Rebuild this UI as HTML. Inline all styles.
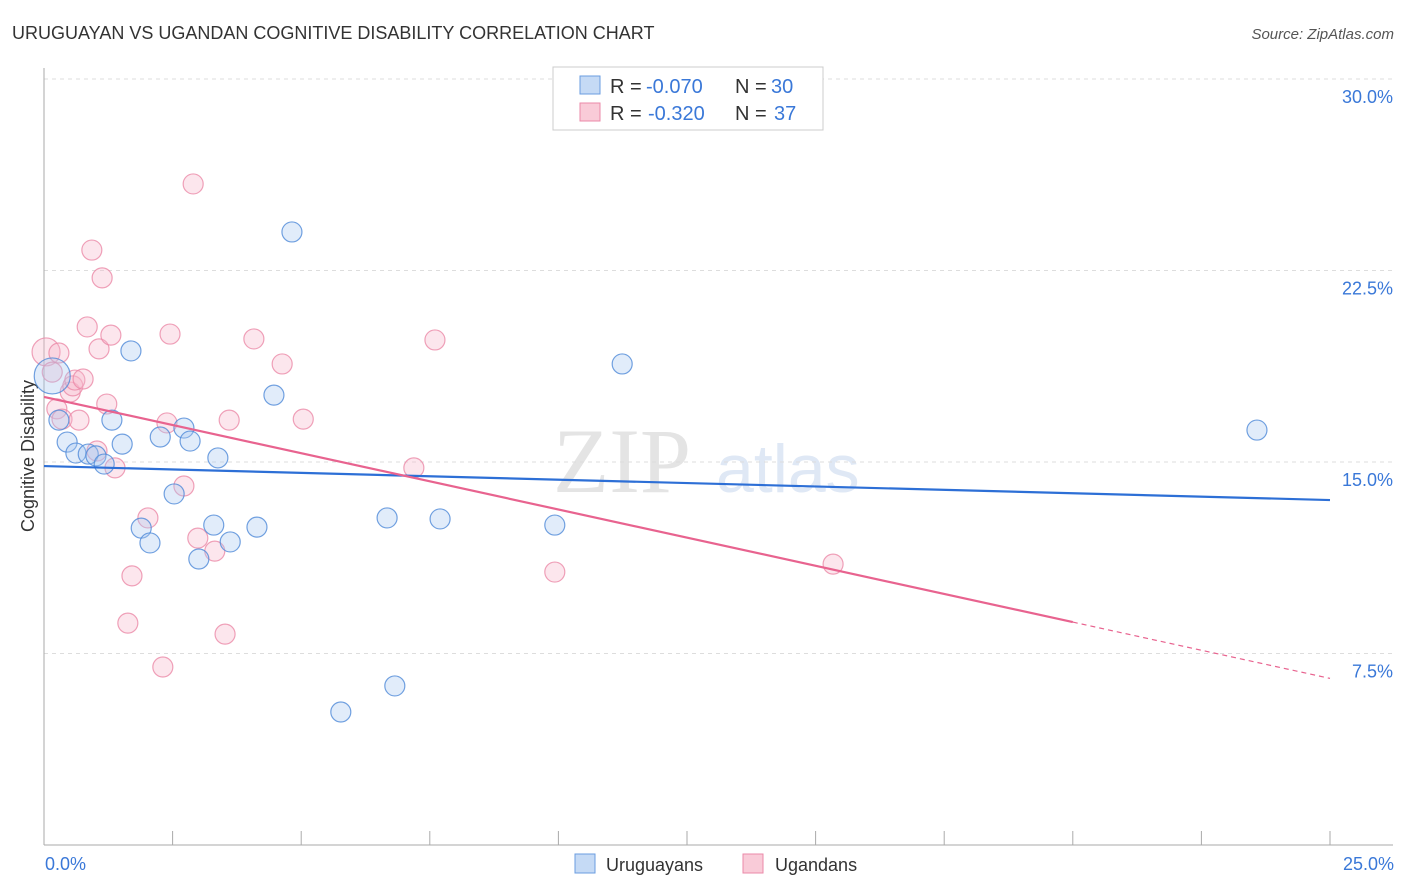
<!DOCTYPE html>
<html><head><meta charset="utf-8"><style>
body{margin:0;background:#fff;font-family:"Liberation Sans",sans-serif}
svg{display:block}
</style></head><body>
<svg width="1406" height="892">
<text x="12" y="39" font-size="18" fill="#333">URUGUAYAN VS UGANDAN COGNITIVE DISABILITY CORRELATION CHART</text>
<text x="1394" y="39" font-size="15" fill="#555" font-style="italic" text-anchor="end">Source: ZipAtlas.com</text>
<text x="553" y="492" font-size="92" fill="#e4e4e4" font-family="Liberation Serif">ZIP</text>
<text x="716" y="492" font-size="68" fill="#dfe8f5">atlas</text>
<g id="grid"></g>
<g id="axes"></g>
<text transform="translate(34,456) rotate(-90)" font-size="18" fill="#333" text-anchor="middle">Cognitive Disability</text>
<text x="45" y="870" font-size="18" fill="#3a78d8">0.0%</text>
<text x="1394" y="870" font-size="18" fill="#3a78d8" text-anchor="end">25.0%</text>
<g id="points"></g>
<g id="lines"></g>
<g>
<rect x="553" y="67" width="270" height="63" fill="#fff" stroke="#ccc"/>
<rect x="580" y="76" width="20" height="18" fill="#c5daf5" stroke="#6a9ce0"/>
<text x="610" y="93" font-size="20" fill="#333">R =</text>
<text x="646" y="93" font-size="20" fill="#3a78d8">-0.070</text>
<text x="735" y="93" font-size="20" fill="#333">N =</text>
<text x="771" y="93" font-size="20" fill="#3a78d8">30</text>
<rect x="580" y="103" width="20" height="18" fill="#f9cbd8" stroke="#eb8aa8"/>
<text x="610" y="120" font-size="20" fill="#333">R =</text>
<text x="648" y="120" font-size="20" fill="#3a78d8">-0.320</text>
<text x="735" y="120" font-size="20" fill="#333">N =</text>
<text x="774" y="120" font-size="20" fill="#3a78d8">37</text>
</g>
<g>
<rect x="575" y="854" width="20" height="19" fill="#c5daf5" stroke="#6a9ce0"/>
<text x="606" y="871" font-size="18" fill="#333">Uruguayans</text>
<rect x="743" y="854" width="20" height="19" fill="#f9cbd8" stroke="#eb8aa8"/>
<text x="775" y="871" font-size="18" fill="#333">Ugandans</text>
</g>
</svg>
<script>
const yTicks=[7.5,15,22.5,30];
const yTickLabels=["7.5%","15.0%","22.5%","30.0%"];
const xTicks=[0,2.5,5,7.5,10,12.5,15,17.5,20,22.5,25];
const blueX=[0.16,0.29,0.45,0.62,0.86,1.01,1.17,1.32,1.52,1.69,1.89,2.06,2.26,2.53,2.72,2.84,3.01,3.30,3.38,3.62,4.14,4.47,4.82,5.77,6.67,6.82,7.70,9.93,11.24,23.58];
const blueY=[18.37,16.64,15.78,15.35,15.31,15.24,14.92,16.64,15.70,19.35,12.41,11.83,15.98,13.75,16.33,15.82,11.20,12.53,15.16,11.87,12.45,17.62,24.01,5.21,12.81,6.23,12.77,12.53,18.84,16.25];
const pinkX=[0.04,0.16,0.25,0.29,0.35,0.51,0.56,0.60,0.68,0.76,0.84,0.93,1.03,1.07,1.13,1.22,1.30,1.38,1.63,1.71,2.02,2.31,2.39,2.45,2.72,2.90,2.99,3.32,3.52,3.60,4.08,4.63,5.04,7.19,7.60,9.93,15.34];
const pinkY=[19.31,18.52,17.08,19.27,16.68,17.74,17.98,18.21,16.64,18.25,20.29,23.30,15.43,19.43,22.21,17.27,19.97,14.77,8.69,10.54,12.81,6.97,16.53,20.01,14.06,25.89,12.02,11.51,8.26,16.64,19.82,18.84,16.68,14.77,19.78,10.69,11.00];
const blueFit=[14.84,-0.0532];
const pinkFit=[17.55,-0.441];
const NS="http://www.w3.org/2000/svg";
const sx=v=>44+v/25*1286, sy=v=>845-v/30*766;
function mk(t,a,p){const e=document.createElementNS(NS,t);for(const k in a)e.setAttribute(k,a[k]);document.getElementById(p).appendChild(e);return e;}
yTicks.forEach((t,i)=>{
 const l=mk('line',{x1:44,x2:1393,y1:sy(t),y2:sy(t),stroke:'#ddd','stroke-dasharray':'4,4'},'grid');
 
 
 const tx=mk('text',{x:1393,y:sy(t)+24,'font-size':18,fill:'#3a78d8','text-anchor':'end'},'grid');
 tx.textContent=yTickLabels[i];
 
 
});
const ya=mk('line',{x1:44,x2:44,y1:68,y2:845,stroke:'#aaa'},'axes');


const xa=mk('line',{x1:44,x2:1393,y1:845,y2:845,stroke:'#aaa'},'axes');


xTicks.forEach(t=>{
 const l=mk('line',{x1:sx(t),x2:sx(t),y1:831,y2:845,stroke:'#aaa'},'axes');
 
 
});
function pts(X,Y,fill,stroke,name){
 X.forEach((x,i)=>{
  const r=(i===0)?(name==='uruguayan-point'?18:14):10;
  const c=mk('circle',{cx:sx(x),cy:sy(Y[i]),r:r,fill:fill,'fill-opacity':0.35,stroke:stroke,'stroke-opacity':0.8,'stroke-width':1.2},'points');
  
  
 });
}
pts(pinkX,pinkY,'#f6b8cb','#eb8aa8','ugandan-point');
pts(blueX,blueY,'#aac8f0','#4f8ad8','uruguayan-point');
const bl=mk('line',{x1:sx(0),y1:sy(blueFit[0]),x2:sx(25),y2:sy(blueFit[0]+25*blueFit[1]),stroke:'#2d6fd6','stroke-width':2.2},'lines');


const pl=mk('line',{x1:sx(0),y1:sy(pinkFit[0]),x2:sx(20),y2:sy(pinkFit[0]+20*pinkFit[1]),stroke:'#e8638f','stroke-width':2.2},'lines');


const pd=mk('line',{x1:sx(20),y1:sy(pinkFit[0]+20*pinkFit[1]),x2:sx(25),y2:sy(pinkFit[0]+25*pinkFit[1]),stroke:'#e8638f','stroke-width':1.2,'stroke-dasharray':'5,4'},'lines');


</script>
</body></html>
